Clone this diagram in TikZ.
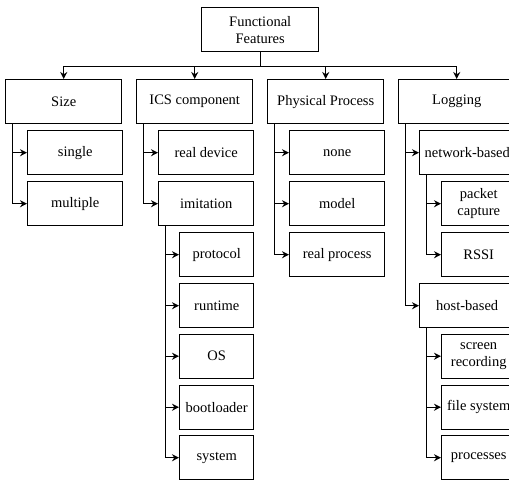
\documentclass[tikz,border=0pt]{standalone}
\usepackage{fontspec}
\setmainfont{Liberation Serif}
\usetikzlibrary{positioning, calc, arrows.meta}
\tikzset{
  box/.style={draw, line width=1pt, anchor=north west, inner sep=1pt, align=center, minimum height=44*0.69pt},
  lvlone/.style={box, minimum width=116*0.69pt},
  lvltwo/.style={box, minimum width=95*0.69pt},
  lvlthree/.style={box, minimum width=74*0.69pt},
  arr/.style={line width=1pt, -{Stealth[length=4.8pt,width=4.8pt]}}
}

\begin{document}
\begin{tikzpicture}[x=0.69pt, y=-0.69pt, font=\fontsize{10}{11.5}\selectfont]
    \useasboundingbox (0,0) rectangle (509,481);
    \clip (0,0) rectangle (509,481);
    \node[box, minimum width=117*0.69pt] (feat) at (201,7) {Functional\\Features};
    \draw[line width=1pt] (feat.south) -- ++(0,14) coordinate (bus);
    \foreach \name/\txt [count=\i from 0] in {size/Size, ics/ICS component, proc/Physical Process, log/Logging}{
        \node[lvlone] (\name) at (5+131*\i,79) {\txt};
        \draw[arr] (bus) -| (\name.north);
    }
    % size
    \foreach \name/\txt/\y in {single/single/130, multiple/multiple/181}{
        \node[lvltwo] (\name) at (27,\y) {\txt};
        \draw[arr] ($(size.south west)+(7.5,0)$) |- (\name.west);
    }
    % ics component
    \foreach \name/\txt/\y in {realdev/real device/130, imitation/imitation/181}{
        \node[lvltwo] (\name) at (158,\y) {\txt};
        \draw[arr] ($(ics.south west)+(7.5,0)$) |- (\name.west);
    }
    \foreach \name/\txt/\y in {protocol/protocol/232, runtime/runtime/283, os/OS/333.5, boot/bootloader/384.5, system/system/435}{
        \node[lvlthree] (\name) at (179,\y) {\txt};
        \draw[arr] ($(imitation.south west)+(7.5,0)$) |- (\name.west);
    }
    % physical process
    \foreach \name/\txt/\y in {none/none/130, model/model/181, realproc/real process/232}{
        \node[lvltwo] (\name) at (289,\y) {\txt};
        \draw[arr] ($(proc.south west)+(7.5,0)$) |- (\name.west);
    }
    % logging
    \foreach \name/\txt/\y in {netbased/network-based/130, hostbased/host-based/283}{
        \node[lvltwo] (\name) at (419,\y) {\txt};
        \draw[arr] ($(log.south west)+(7.5,0)$) |- (\name.west);
    }
    \foreach \name/\txt/\y in {packet/packet\\capture/181, rssi/RSSI/232}{
        \node[lvlthree] (\name) at (441,\y) {\txt};
        \draw[arr] ($(netbased.south west)+(7.5,0)$) |- (\name.west);
    }
    \foreach \name/\txt/\y in {screen/screen\\recording/333.5, filesys/file system/384.5, processes/processes/435}{
        \node[lvlthree] (\name) at (441,\y) {\txt};
        \draw[arr] ($(hostbased.south west)+(7.5,0)$) |- (\name.west);
    }
\end{tikzpicture}
\end{document}
